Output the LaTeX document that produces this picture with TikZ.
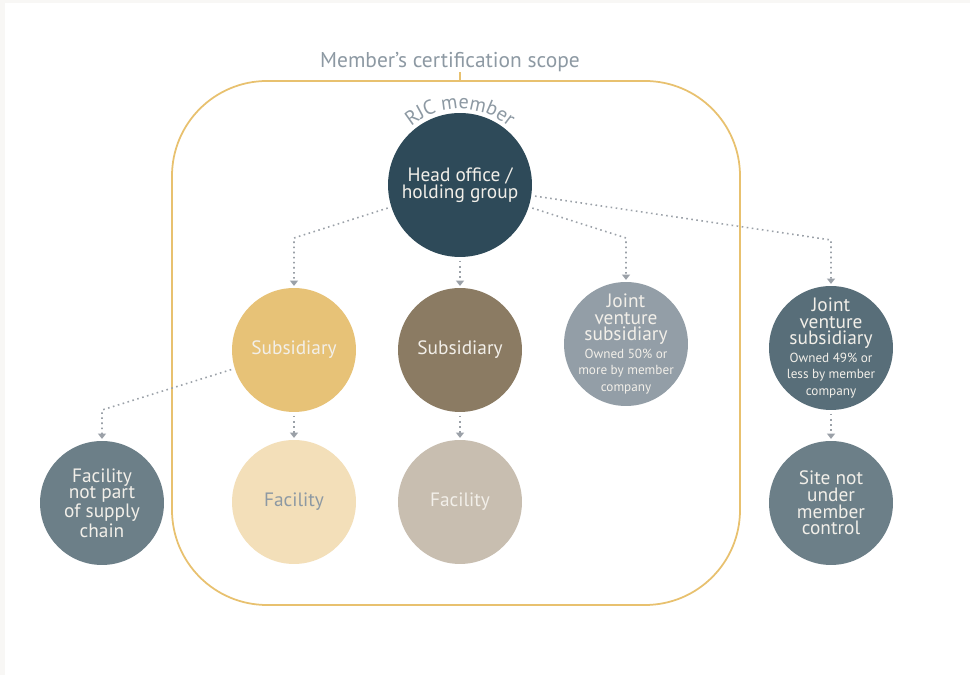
\documentclass[tikz,border=0pt]{standalone}
\usepackage{fontspec}
\setmainfont{PT Sans}
\usetikzlibrary{arrows.meta, positioning, decorations.text}
\definecolor{scopegold}{HTML}{E8C16F}
\definecolor{headblue}{HTML}{2E4A59}
\definecolor{subgold}{HTML}{E7C277}
\definecolor{subbrown}{HTML}{8B7B63}
\definecolor{jvlight}{HTML}{939EA7}
\definecolor{jvdark}{HTML}{586E79}
\definecolor{facgold}{HTML}{F3DFB9}
\definecolor{facbrown}{HTML}{C8BEB0}
\definecolor{outgray}{HTML}{6C7F88}
\definecolor{labelgray}{HTML}{8D99A3}
\definecolor{dotgray}{HTML}{9BA1A8}
\definecolor{paper}{HTML}{F8F7F5}
\definecolor{lighttext}{HTML}{F2EFE9}
\newcommand{\jvsmall}{\fontsize{7.5}{8}\selectfont}

\begin{document}
\begin{tikzpicture}[
        x=0.02cm, y=0.02cm,
        bubble/.style={circle, inner sep=0pt, minimum size=2.48cm, align=center, text=lighttext, font=\fontsize{11}{9.5}\selectfont},
        headbubble/.style={bubble, minimum size=2.88cm, fill=headblue},
        jvbubble/.style={bubble, inner sep=-6pt, font=\fontsize{11}{9.3}\selectfont},
        link/.style={draw=dotgray, line width=0.9pt, dash pattern=on 0.9pt off 2pt, shorten <=2pt, shorten >=1pt, -{Triangle[width=4.5pt, length=3pt]}},
        scope/.style={draw=scopegold, line width=1pt, rounded corners=1.9cm}
        ]

        % Page
        \fill[paper] (0,0) rectangle (970,675);
        \fill[white] (5,0) rectangle (970,672);
        \useasboundingbox (0,0) rectangle (970,675);

        % Scope
        \draw[scope] (172,70) rectangle (740,594);
        \draw[draw=scopegold, line width=1pt] (460,594) -- (460,603);
        \node (scopetitle) [text=labelgray, font=\fontsize{12.2}{14}\selectfont] at (450,613) {Member’s certification scope};

        % Nodes
        \node (head) [headbubble] at (460,490) {Head office /\\holding group};
        \node (sub1) [bubble, fill=subgold] at (294,325) {Subsidiary};
        \node (sub2) [bubble, fill=subbrown] at (460,325) {Subsidiary};
        \node (jv1) [jvbubble, fill=jvlight] at (626,331) {Joint\\venture\\subsidiary\\[1pt]\jvsmall Owned 50\% or\\\jvsmall more by member\\\jvsmall company};
        \node (jv2) [jvbubble, fill=jvdark] at (831,327) {Joint\\venture\\subsidiary\\[1pt]\jvsmall Owned 49\% or\\\jvsmall less by member\\\jvsmall company};
        \node (fac1) [bubble, fill=facgold, text=labelgray] at (294,173) {Facility};
        \node (fac2) [bubble, fill=facbrown] at (460,173) {Facility};
        \node (facnot) [bubble, fill=outgray] at (102,172) {Facility\\not part\\of supply\\chain};
        \node (site) [bubble, fill=outgray] at (831,172) {Site not\\under\\member\\control};

        % RJC member label round the head office
        \path[decorate, decoration={text along path, text align=center,
            text={|\fontsize{11.5}{12}\selectfont\color{labelgray}|RJC member}}]
            ([shift={(150:76)}]head.center) arc[start angle=150, end angle=30, radius=76];

        % Bends
        \coordinate (bend1) at (294,437);
        \coordinate (bend3) at (626,437);
        \coordinate (bend4) at (831,435);
        \coordinate (bend5) at (102,265);

        % Arrows
        \draw [link] (head) -- (bend1) -- (sub1);
        \draw [link] (head) -- (sub2);
        \draw [link] (head) -- (bend3) -- (jv1);
        \draw [link] (head) -- (bend4) -- (jv2);
        \draw [link] (sub1) -- (bend5) -- (facnot);
        \draw [link] (sub1) -- (fac1);
        \draw [link] (sub2) -- (fac2);
        \draw [link] (jv2) -- (site);

    \end{tikzpicture}
\end{document}
